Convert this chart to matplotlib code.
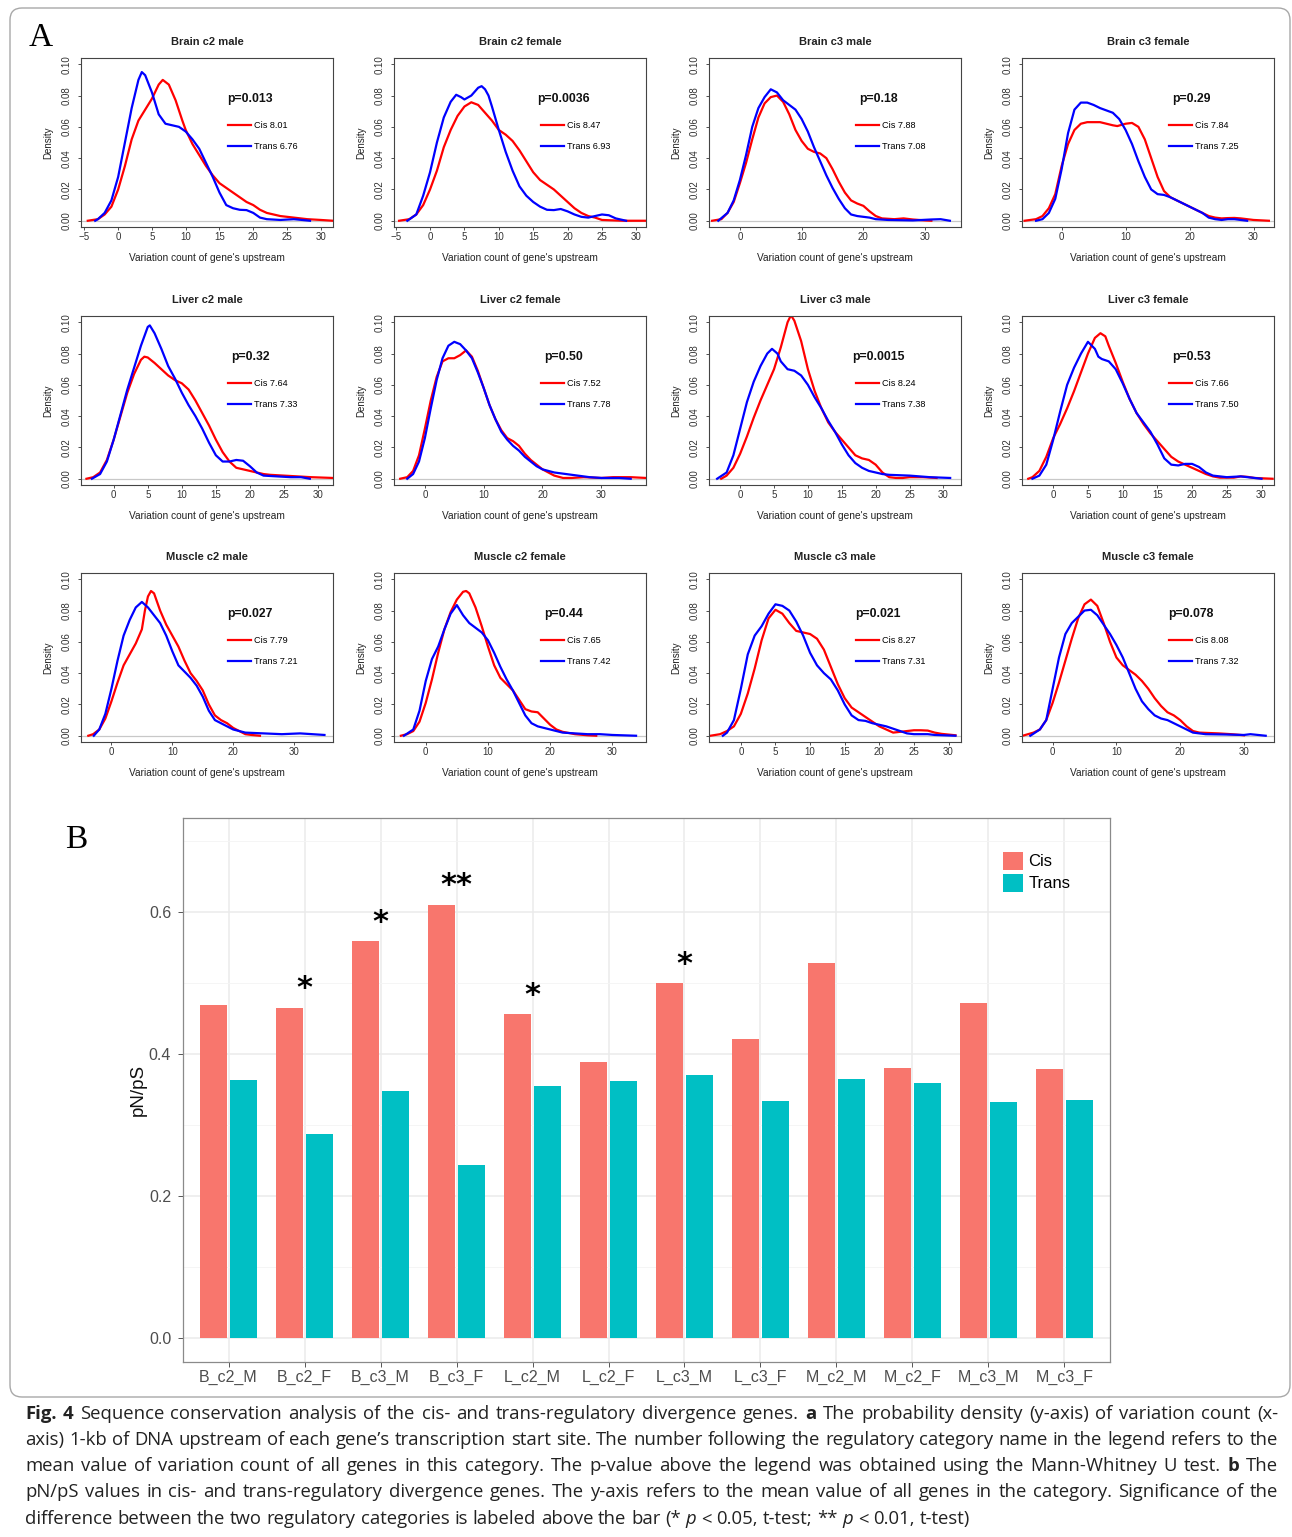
import numpy as np
import matplotlib
matplotlib.use('Agg')
import matplotlib.pyplot as plt
from matplotlib.patches import FancyBboxPatch
from matplotlib.transforms import IdentityTransform

# ---------------- Panel A data ----------------
titles = ['Brain c2 male', 'Brain c2 female', 'Brain c3 male', 'Brain c3 female',
          'Liver c2 male', 'Liver c2 female', 'Liver c3 male', 'Liver c3 female',
          'Muscle c2 male', 'Muscle c2 female', 'Muscle c3 male', 'Muscle c3 female']
p_values = ['0.013', '0.0036', '0.18', '0.29', '0.32', '0.50',
            '0.0015', '0.53', '0.027', '0.44', '0.021', '0.078']
cis_means = [8.01, 8.47, 7.88, 7.84, 7.64, 7.52, 8.24, 7.66, 7.79, 7.65, 8.27, 8.08]
trans_means = [6.76, 6.93, 7.08, 7.25, 7.33, 7.78, 7.38, 7.50, 7.21, 7.42, 7.31, 7.32]

bc2m_cis = [(-4.5, 0), (-3, 0.001), (-2, 0.004), (-1, 0.009), (0, 0.020), (1, 0.035), (2, 0.052),
            (3, 0.064), (4, 0.071), (5, 0.078), (6, 0.087), (6.6, 0.090), (7.5, 0.087), (8.5, 0.077),
            (9.5, 0.064), (10, 0.058), (11, 0.049), (12, 0.042), (13, 0.035), (14, 0.029), (15, 0.024),
            (16, 0.021), (17, 0.018), (18, 0.015), (19, 0.012), (20, 0.010), (21, 0.007), (22, 0.005),
            (24, 0.003), (26, 0.002), (28, 0.001), (30, 0.0005), (31.8, 0)]
bc2m_trans = [(-3.4, 0), (-3, 0.001), (-2, 0.005), (-1, 0.013), (0, 0.028), (1, 0.050), (2, 0.072),
              (3, 0.090), (3.5, 0.095), (4, 0.093), (5, 0.082), (6, 0.068), (7, 0.062), (8, 0.061),
              (9, 0.060), (10, 0.057), (11, 0.052), (12, 0.046), (13, 0.037), (14, 0.028), (15, 0.018),
              (16, 0.010), (17, 0.008), (18, 0.007), (19, 0.0068), (20, 0.005), (21, 0.002), (22, 0.001),
              (24, 0.0005), (26, 0.001), (28.4, 0)]

bc2f_cis = [(-4.5, 0), (-3, 0.001), (-2, 0.004), (-1, 0.010), (0, 0.020), (1, 0.032), (2, 0.047),
            (3, 0.058), (4, 0.067), (5, 0.073), (6, 0.0757), (7, 0.074), (8, 0.069), (9, 0.064),
            (10, 0.058), (11, 0.055), (12, 0.051), (13, 0.045), (14, 0.038), (15, 0.031), (16, 0.026),
            (17, 0.023), (18, 0.020), (19, 0.016), (20, 0.012), (21, 0.008), (22, 0.005), (23, 0.003),
            (24, 0.002), (25, 0.0005), (28, 0), (31.4, 0)]
bc2f_trans = [(-3.3, 0), (-2, 0.004), (-1, 0.016), (0, 0.031), (1, 0.050), (2, 0.066), (3, 0.076),
              (3.8, 0.0805), (4.5, 0.079), (5, 0.0775), (6, 0.080), (7, 0.085), (7.5, 0.086), (8, 0.084),
              (8.5, 0.080), (9, 0.073), (10, 0.058), (11, 0.044), (12, 0.032), (13, 0.022), (14, 0.016),
              (15, 0.012), (16, 0.009), (17, 0.007), (18, 0.0068), (19, 0.0075), (20, 0.006), (21, 0.004),
              (22, 0.0025), (23, 0.002), (24, 0.003), (25, 0.004), (26, 0.0035), (27, 0.0015), (28.5, 0)]

bc3m_cis = [(-4.5, 0), (-3, 0.001), (-2, 0.005), (-1, 0.012), (0, 0.024), (1, 0.037), (2, 0.052),
            (3, 0.066), (4, 0.075), (5, 0.079), (6, 0.080), (7, 0.076), (8, 0.068), (9, 0.058),
            (10, 0.051), (11, 0.046), (12, 0.044), (13, 0.043), (14, 0.040), (15, 0.033), (16, 0.025),
            (17, 0.018), (18, 0.013), (19, 0.011), (20, 0.0095), (21, 0.006), (22, 0.003), (23, 0.0015),
            (25, 0.001), (26.5, 0.0015), (28, 0.0008), (30, 0.0002), (31, 0)]
bc3m_trans = [(-3.5, 0), (-2, 0.005), (-1, 0.013), (0, 0.026), (1, 0.042), (2, 0.060), (3, 0.072),
              (4, 0.079), (5, 0.084), (6, 0.082), (7, 0.077), (8, 0.074), (9, 0.071), (10, 0.065),
              (11, 0.057), (12, 0.047), (13, 0.038), (14, 0.029), (15, 0.021), (16, 0.014), (17, 0.008),
              (18, 0.004), (19, 0.003), (20, 0.0025), (21, 0.002), (22, 0.001), (24, 0.0005), (28, 0.0002),
              (31, 0.0008), (32.5, 0.001), (34, 0)]

bc3f_cis = [(-5.8, 0), (-4, 0.001), (-3, 0.003), (-2, 0.008), (-1, 0.017), (0, 0.035), (1, 0.049),
            (2, 0.058), (3, 0.062), (4, 0.063), (5, 0.063), (6, 0.063), (7, 0.062), (8, 0.061),
            (8.7, 0.0605), (10, 0.062), (11, 0.0625), (12, 0.060), (13, 0.052), (14, 0.040), (15, 0.028),
            (16, 0.019), (17, 0.015), (18, 0.013), (19, 0.011), (20, 0.009), (21, 0.007), (22, 0.005),
            (23, 0.003), (24, 0.002), (25, 0.0015), (26, 0.0017), (27, 0.0018), (28, 0.0015), (29, 0.001),
            (30, 0.0005), (32.4, 0)]
bc3f_trans = [(-4, 0), (-3, 0.001), (-2, 0.005), (-1, 0.014), (0, 0.033), (1, 0.056), (2, 0.071),
              (3, 0.0755), (4, 0.0755), (5, 0.074), (6, 0.072), (7, 0.0705), (8, 0.069), (9, 0.065),
              (10, 0.058), (11, 0.049), (12, 0.038), (13, 0.028), (14, 0.020), (15, 0.017), (16, 0.0165),
              (17, 0.015), (18, 0.013), (19, 0.011), (20, 0.009), (21, 0.007), (22, 0.005), (23, 0.002),
              (24, 0.001), (25, 0.0005), (26, 0.001), (27, 0.001), (28, 0.0005), (29, 0)]

lc2m_cis = [(-4, 0), (-3, 0.001), (-2, 0.004), (-1, 0.012), (0, 0.025), (1, 0.040), (2, 0.055),
            (3, 0.067), (4, 0.076), (4.5, 0.078), (5, 0.0775), (6, 0.074), (7, 0.070), (8, 0.066),
            (9, 0.063), (10, 0.061), (11, 0.057), (12, 0.050), (13, 0.042), (14, 0.034), (15, 0.025),
            (16, 0.017), (17, 0.011), (18, 0.007), (19, 0.006), (20, 0.005), (21, 0.004), (22, 0.003),
            (23, 0.0025), (25, 0.002), (27, 0.0015), (29, 0.001), (32.2, 0.0005)]
lc2m_trans = [(-3.2, 0), (-2, 0.003), (-1, 0.011), (0, 0.025), (1, 0.041), (2, 0.057), (3, 0.071),
              (4, 0.085), (5, 0.097), (5.3, 0.098), (6, 0.093), (7, 0.083), (8, 0.072), (9, 0.064),
              (10, 0.055), (11, 0.047), (12, 0.040), (13, 0.032), (14, 0.023), (15, 0.015), (16, 0.011),
              (17, 0.011), (18, 0.012), (19, 0.0115), (20, 0.008), (21, 0.004), (22, 0.002), (24, 0.0015),
              (26, 0.001), (27.5, 0.001), (28.8, 0)]

lc2f_cis = [(-4.2, 0), (-3, 0.001), (-2, 0.005), (-1, 0.015), (0, 0.032), (1, 0.050), (2, 0.065),
            (3, 0.075), (4, 0.077), (5, 0.077), (6, 0.079), (7, 0.082), (8, 0.078), (9, 0.069),
            (10, 0.058), (11, 0.047), (12, 0.038), (13, 0.031), (14, 0.026), (15, 0.024), (16, 0.021),
            (17, 0.016), (18, 0.012), (19, 0.009), (20, 0.006), (21, 0.004), (22, 0.002), (23.5, 0.0005),
            (25, 0.0005), (27, 0.001), (30, 0.0005), (32, 0.001), (35, 0.001), (37.6, 0.0005)]
lc2f_trans = [(-3, 0), (-2, 0.003), (-1, 0.011), (0, 0.026), (1, 0.045), (2, 0.063), (3, 0.077),
              (4, 0.085), (5, 0.0875), (6, 0.086), (7, 0.082), (8, 0.077), (9, 0.068), (10, 0.058),
              (11, 0.047), (12, 0.038), (13, 0.030), (14, 0.025), (15, 0.021), (16, 0.018), (17, 0.014),
              (18, 0.011), (19, 0.008), (20, 0.006), (21, 0.005), (22, 0.004), (24, 0.003), (26, 0.002),
              (28, 0.001), (30, 0.0005), (33, 0.0005), (35, 0)]

lc3m_cis = [(-2.8, 0), (-2, 0.002), (-1, 0.007), (0, 0.016), (1, 0.027), (2, 0.039), (3, 0.050),
            (4, 0.060), (5, 0.070), (6, 0.084), (7, 0.100), (7.5, 0.1045), (8, 0.101), (9, 0.088),
            (10, 0.070), (11, 0.056), (12, 0.045), (13, 0.036), (14, 0.030), (15, 0.025), (16, 0.020),
            (17, 0.015), (18, 0.013), (19, 0.012), (20, 0.009), (21, 0.004), (22, 0.001), (23, 0.0005),
            (24, 0.0005), (25, 0.001), (27, 0.001), (29, 0.0005)]
lc3m_trans = [(-3.4, 0), (-2, 0.004), (-1, 0.015), (0, 0.032), (1, 0.049), (2, 0.062), (3, 0.072),
              (4, 0.080), (4.7, 0.083), (5.5, 0.080), (6, 0.075), (7, 0.070), (8, 0.069), (9, 0.066),
              (10, 0.060), (11, 0.052), (12, 0.045), (13, 0.037), (14, 0.030), (15, 0.022), (16, 0.015),
              (17, 0.010), (18, 0.007), (19, 0.005), (20, 0.004), (21, 0.003), (22, 0.0025), (25, 0.002),
              (28, 0.001), (31, 0.0005)]

lc3f_cis = [(-3.6, 0), (-3, 0.001), (-2, 0.005), (-1, 0.014), (0, 0.026), (1, 0.035), (2, 0.045),
            (3, 0.056), (4, 0.068), (5, 0.080), (6, 0.090), (6.8, 0.093), (7.5, 0.091), (8, 0.085),
            (9, 0.074), (10, 0.062), (11, 0.051), (12, 0.042), (13, 0.035), (14, 0.029), (15, 0.024),
            (16, 0.019), (17, 0.014), (18, 0.011), (19, 0.009), (20, 0.007), (21, 0.005), (22, 0.003),
            (23, 0.0015), (24, 0.0007), (26, 0.0007), (27, 0.0015), (28, 0.0012), (29, 0.0005), (31.6, 0)]
lc3f_trans = [(-3, 0), (-2, 0.002), (-1, 0.009), (0, 0.025), (1, 0.043), (2, 0.060), (3, 0.071),
              (4, 0.080), (5, 0.0875), (6, 0.083), (6.5, 0.078), (7, 0.0765), (8, 0.075), (9, 0.070),
              (10, 0.061), (11, 0.051), (12, 0.042), (13, 0.036), (14, 0.030), (15, 0.022), (16, 0.013),
              (17, 0.009), (18, 0.0085), (19, 0.0095), (20, 0.0095), (21, 0.0075), (22, 0.004), (23, 0.002),
              (25, 0.001), (27, 0.0015), (28, 0.001), (29, 0.0005), (30, 0)]

mc2m_cis = [(-3.8, 0), (-3, 0.001), (-2, 0.004), (-1, 0.011), (0, 0.022), (1, 0.034), (2, 0.045),
            (3, 0.052), (4, 0.059), (5, 0.068), (5.5, 0.080), (6, 0.089), (6.5, 0.0925), (7, 0.091),
            (8, 0.080), (9, 0.071), (10, 0.064), (11, 0.057), (12, 0.048), (13, 0.040), (14, 0.035),
            (15, 0.029), (16, 0.020), (17, 0.013), (18, 0.010), (19, 0.008), (20, 0.005), (21, 0.003),
            (22, 0.001), (23, 0.0005), (24.4, 0)]
mc2m_trans = [(-2.9, 0), (-2, 0.004), (-1, 0.014), (0, 0.030), (1, 0.048), (2, 0.064), (3, 0.074),
              (4, 0.082), (5, 0.0855), (6, 0.082), (7, 0.077), (8, 0.072), (9, 0.064), (10, 0.054),
              (11, 0.045), (12, 0.041), (13, 0.037), (14, 0.032), (15, 0.025), (16, 0.016), (17, 0.010),
              (18, 0.008), (19, 0.006), (20, 0.004), (21, 0.003), (22, 0.002), (25, 0.0015), (28, 0.001),
              (31, 0.0015), (33, 0.001), (35, 0.0005)]

mc2f_cis = [(-4, 0), (-3, 0.001), (-2, 0.003), (-1, 0.009), (0, 0.021), (1, 0.036), (2, 0.053),
            (3, 0.068), (4, 0.079), (5, 0.087), (6, 0.092), (6.5, 0.0925), (7, 0.091), (8, 0.082),
            (9, 0.070), (10, 0.057), (11, 0.045), (12, 0.037), (13, 0.033), (14, 0.029), (15, 0.023),
            (16, 0.017), (17, 0.0155), (18, 0.015), (19, 0.011), (20, 0.007), (21, 0.004), (22, 0.0025),
            (24, 0.001), (26, 0.0003), (27.4, 0)]
mc2f_trans = [(-3.5, 0), (-2, 0.004), (-1, 0.016), (0, 0.035), (1, 0.049), (2, 0.057), (3, 0.068),
              (4, 0.078), (5, 0.0835), (6, 0.077), (7, 0.072), (8, 0.069), (9, 0.066), (10, 0.061),
              (11, 0.053), (12, 0.044), (13, 0.036), (14, 0.029), (15, 0.021), (16, 0.013), (17, 0.008),
              (18, 0.006), (19, 0.005), (20, 0.004), (22, 0.002), (24, 0.0015), (26, 0.001), (28, 0.001),
              (30, 0.0005), (33.8, 0)]

mc3m_cis = [(-4.4, 0), (-3, 0.001), (-2, 0.003), (-1, 0.006), (0, 0.014), (1, 0.027), (2, 0.043),
            (3, 0.061), (4, 0.075), (5, 0.0805), (6, 0.078), (7, 0.072), (8, 0.067), (9, 0.066),
            (10, 0.065), (11, 0.062), (12, 0.055), (13, 0.044), (14, 0.033), (15, 0.024), (16, 0.018),
            (17, 0.015), (18, 0.012), (19, 0.009), (20, 0.006), (21, 0.004), (22, 0.002), (23, 0.0025),
            (24, 0.003), (25, 0.0035), (26, 0.0035), (27, 0.0033), (28, 0.002), (29, 0.0012), (31, 0.0003)]
mc3m_trans = [(-2.6, 0), (-2, 0.002), (-1, 0.010), (0, 0.030), (1, 0.052), (2, 0.064), (3, 0.070),
              (4, 0.078), (5, 0.084), (6, 0.083), (7, 0.080), (8, 0.073), (9, 0.064), (10, 0.053),
              (11, 0.045), (12, 0.040), (13, 0.036), (14, 0.029), (15, 0.020), (16, 0.013), (17, 0.010),
              (18, 0.0095), (19, 0.008), (20, 0.007), (21, 0.006), (22, 0.0045), (23, 0.003), (24, 0.0015),
              (25, 0.001), (27, 0.001), (28, 0.0005), (31, 0)]

mc3f_cis = [(-4.7, 0), (-3, 0.002), (-2, 0.004), (-1, 0.010), (0, 0.021), (1, 0.034), (2, 0.048),
            (3, 0.062), (4, 0.075), (5, 0.084), (6, 0.087), (7, 0.083), (8, 0.072), (9, 0.060),
            (10, 0.050), (11, 0.045), (12, 0.042), (13, 0.039), (14, 0.035), (15, 0.030), (16, 0.024),
            (17, 0.019), (18, 0.015), (19, 0.013), (20, 0.010), (21, 0.006), (22, 0.003), (23, 0.002),
            (26, 0.0015), (28, 0.001), (30, 0.0003)]
mc3f_trans = [(-3.5, 0), (-2, 0.004), (-1, 0.010), (0, 0.030), (1, 0.050), (2, 0.065), (3, 0.072),
              (4, 0.076), (5, 0.080), (6, 0.0805), (7, 0.077), (8, 0.071), (9, 0.065), (10, 0.058),
              (11, 0.050), (12, 0.040), (13, 0.030), (14, 0.022), (15, 0.017), (16, 0.013), (17, 0.011),
              (18, 0.010), (19, 0.008), (20, 0.006), (21, 0.004), (22, 0.002), (24, 0.001), (27, 0.0008),
              (30, 0.0005), (31, 0.001), (33.4, 0)]

cis_curves = [bc2m_cis, bc2f_cis, bc3m_cis, bc3f_cis, lc2m_cis, lc2f_cis,
              lc3m_cis, lc3f_cis, mc2m_cis, mc2f_cis, mc3m_cis, mc3f_cis]
trans_curves = [bc2m_trans, bc2f_trans, bc3m_trans, bc3f_trans, lc2m_trans, lc2f_trans,
                lc3m_trans, lc3f_trans, mc2m_trans, mc2f_trans, mc3m_trans, mc3f_trans]

# ---------------- Panel B data ----------------
samples = ['B_c2_M', 'B_c2_F', 'B_c3_M', 'B_c3_F', 'L_c2_M', 'L_c2_F',
           'L_c3_M', 'L_c3_F', 'M_c2_M', 'M_c2_F', 'M_c3_M', 'M_c3_F']
cis_pnps = [0.469, 0.465, 0.559, 0.610, 0.456, 0.389, 0.500, 0.421, 0.528, 0.380, 0.472, 0.379]
trans_pnps = [0.363, 0.287, 0.348, 0.244, 0.355, 0.362, 0.370, 0.334, 0.365, 0.359, 0.332, 0.335]
signif = ['', '*', '*', '**', '*', '', '*', '', '', '', '', '']

# ---------------- figure ----------------
W, H = 1292, 1537
fig = plt.figure(figsize=(W / 100, H / 100), dpi=100)
fig.patch.set_facecolor('white')


def px_axes(left, top, w, h):
    return fig.add_axes([left / W, 1 - (top + h) / H, w / W, h / H])


sans = 'Liberation Sans'
col_left = [81, 394, 709, 1022]
row_top = [58, 316, 573]
xlims = [(-5.5, 31.8), (-5.24, 31.4), (-5.0, 35.8), (-6.2, 33.2),
         (-4.8, 32.2), (-5.25, 37.6), (-4.6, 32.6), (-4.5, 31.8),
         (-5.0, 36.4), (-5.1, 35.4), (-4.6, 31.8), (-4.8, 34.7)]
xsteps = [5, 5, 10, 10, 5, 10, 5, 5, 10, 10, 5, 10]

for i in range(12):
    r, c = divmod(i, 4)
    ax = px_axes(col_left[c], row_top[r], 252, 169)
    cx, cy = np.array(cis_curves[i]).T
    tx, ty = np.array(trans_curves[i]).T
    ax.axhline(0, color='#C8C8C8', lw=0.9, zorder=0)
    ax.plot(cx, cy, color='#FF0000', lw=1.6, label=f'Cis {cis_means[i]:.2f}')
    ax.plot(tx, ty, color='#0000FF', lw=1.6, label=f'Trans {trans_means[i]:.2f}')
    ax.set_xlim(*xlims[i])
    ax.set_ylim(-0.004, 0.104)
    lo = int(np.ceil(xlims[i][0] / xsteps[i]) * xsteps[i])
    ax.set_xticks(np.arange(lo, xlims[i][1], xsteps[i]))
    ax.set_yticks([0, 0.02, 0.04, 0.06, 0.08, 0.10])
    ax.set_yticklabels(['0.00', '0.02', '0.04', '0.06', '0.08', '0.10'],
                       rotation=90, va='center', family=sans)
    for lab in ax.get_xticklabels():
        lab.set_family(sans)
    ax.tick_params(axis='both', direction='out', length=2.5, width=0.6,
                   labelsize=7, colors='#333333')
    ax.tick_params(axis='x', pad=0.8)
    ax.tick_params(axis='y', pad=4)
    for sp in ax.spines.values():
        sp.set_linewidth(0.8)
        sp.set_color('#444444')
    ax.set_title(titles[i], fontsize=8, fontweight='bold', family=sans, pad=9.5, color='#222222')
    ax.set_xlabel("Variation count of gene's upstream", fontsize=7.3, family=sans,
                  labelpad=8, color='#222222')
    ax.set_ylabel('Density', fontsize=7, family=sans, labelpad=6, color='#222222')
    ax.text(0.672, 0.755, f'p={p_values[i]}', transform=ax.transAxes, ha='center',
            va='center', fontsize=8.8, fontweight='bold', family=sans, color='#111111')
    ax.legend(loc='upper left', bbox_to_anchor=(0.585, 0.628), frameon=False,
              borderpad=0, borderaxespad=0, handlelength=2.5, handletextpad=0.3,
              labelspacing=1.35, prop={'family': sans, 'size': 6.6})

# ---------------- Panel B ----------------
axb = px_axes(183, 818, 927, 544)
xb = np.arange(1, len(samples) + 1)
axb.bar(xb - 0.2, cis_pnps, width=0.36, color='#F8766D', label='Cis', zorder=3)
axb.bar(xb + 0.2, trans_pnps, width=0.36, color='#00BFC4', label='Trans', zorder=3)
for xi, top, s in zip(xb, cis_pnps, signif):
    if s:
        axb.text(xi, top + 0.006, s, ha='center', va='bottom', fontsize=22,
                 fontweight='bold', family='DejaVu Sans', zorder=4)
axb.set_xlim(0.4, 12.6)
axb.set_ylim(-0.034, 0.732)
axb.set_xticks(xb)
axb.set_xticklabels(samples, family=sans, fontsize=11.5, color='#4D4D4D')
axb.set_yticks([0.0, 0.2, 0.4, 0.6])
axb.set_yticklabels(['0.0', '0.2', '0.4', '0.6'], family=sans, fontsize=11.5, color='#4D4D4D')
axb.set_yticks([0.1, 0.3, 0.5, 0.7], minor=True)
axb.grid(True, which='major', color='#EBEBEB', lw=1.1, zorder=0)
axb.grid(True, which='minor', axis='y', color='#F4F4F4', lw=0.6, zorder=0)
axb.set_axisbelow(True)
axb.tick_params(axis='both', which='major', length=3.5, width=0.7, color='#555555')
axb.tick_params(axis='x', pad=2)
axb.tick_params(axis='y', pad=5)
axb.tick_params(which='minor', length=0)
for sp in axb.spines.values():
    sp.set_linewidth(0.9)
    sp.set_color('#8A8A8A')
axb.set_ylabel('pN/pS', fontsize=13.5, family=sans, labelpad=1.5, color='#111111')
axb.legend(loc='upper left', bbox_to_anchor=(0.885, 0.9375), frameon=False,
           borderpad=0, borderaxespad=0, handlelength=1.2, handleheight=1.26,
           handletextpad=0.3, labelspacing=0.25, prop={'family': sans, 'size': 12})

# panel letters
fig.text(41 / W, 1 - 38 / H, 'A', fontsize=24, family='Liberation Serif',
         ha='center', va='center')
fig.text(76 / W, 1 - 840 / H, 'B', fontsize=24, family='Liberation Serif',
         ha='center', va='center')

# frame around the figure
frame = FancyBboxPatch((10, H - 1397), 1280, 1389, boxstyle='round,pad=0,rounding_size=12',
                       transform=IdentityTransform(), fill=False, ec='#A8A8A8', lw=1.0)
fig.add_artist(frame)

# ---------------- caption (justified) ----------------
cap_lines = [
    [('Fig. 4', 'bold', 'normal'),
     (' Sequence conservation analysis of the cis- and trans-regulatory divergence genes. ', 'normal', 'normal'),
     ('a', 'bold', 'normal'),
     (' The probability density (y-axis) of variation count (x-', 'normal', 'normal')],
    [('axis) 1-kb of DNA upstream of each gene\u2019s transcription start site. The number following '
      'the regulatory category name in the legend refers to the', 'normal', 'normal')],
    [('mean value of variation count of all genes in this category. The p-value above the legend was '
      'obtained using the Mann-Whitney U test. ', 'normal', 'normal'),
     ('b', 'bold', 'normal'), (' The', 'normal', 'normal')],
    [('pN/pS values in cis- and trans-regulatory divergence genes. The y-axis refers to the mean value '
      'of all genes in the category. Significance of the', 'normal', 'normal')],
    [('difference between the two regulatory categories is labeled above the bar (* ', 'normal', 'normal'),
     ('p', 'normal', 'italic'), (' < 0.05, t-test; ** ', 'normal', 'normal'),
     ('p', 'normal', 'italic'), (' < 0.01, t-test)', 'normal', 'normal')],
]
cap_y = [1414, 1440, 1466, 1492, 1519]
cap_x0, cap_x1 = 25, 1278
cap_size = 13.3
renderer = fig.canvas.get_renderer()
space_px = 0.26 * cap_size * 100 / 72

for li, (segs, yy) in enumerate(zip(cap_lines, cap_y)):
    words = []
    for txt, wt, st in segs:
        for w in txt.split():
            words.append((w, wt, st))
    objs = []
    for w, wt, st in words:
        t = fig.text(0, 1 - yy / H, w, fontsize=cap_size, family='Open Sans',
                     fontweight=wt, fontstyle=st, va='center', ha='left', color='#222222')
        objs.append(t)
    widths = [t.get_window_extent(renderer).width for t in objs]
    if li < len(cap_lines) - 1:
        gap = max((cap_x1 - cap_x0 - sum(widths)) / (len(objs) - 1), 2.0)
    else:
        gap = space_px
    x = cap_x0
    for t, wd in zip(objs, widths):
        t.set_x(x / W)
        x += wd + gap

fig.savefig('out.png', dpi=100, facecolor='white')
